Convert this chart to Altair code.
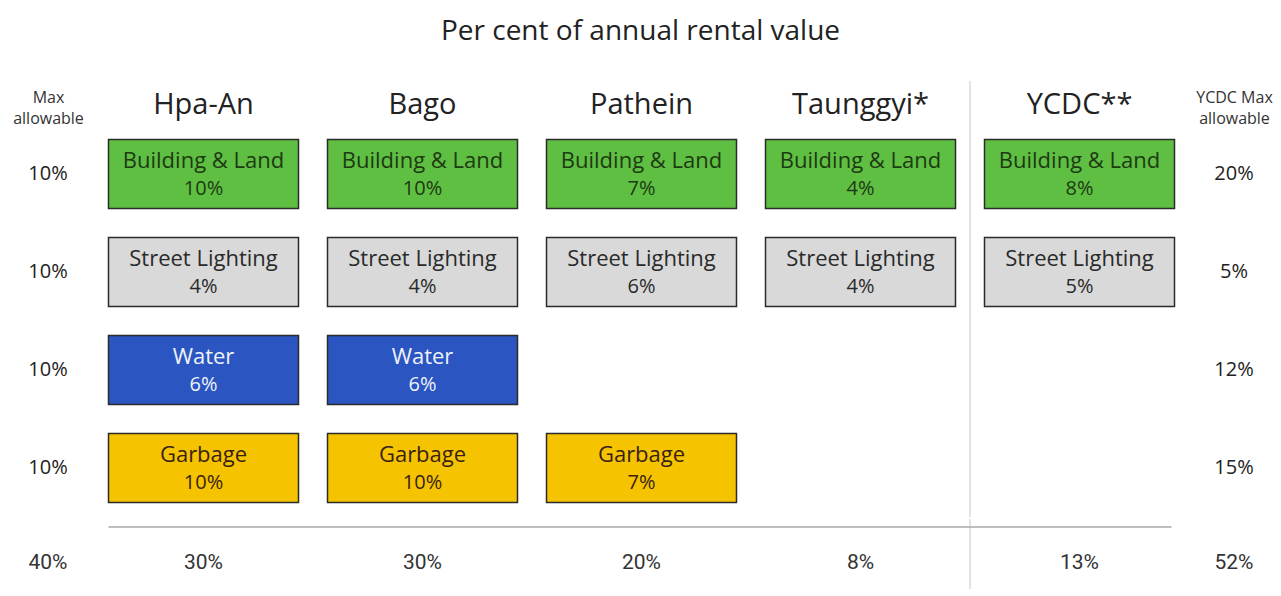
import pandas as pd
import altair as alt

FONT = "Open Sans"
NUM_FONT = "Roboto"

# ---------------- data ----------------
title_text = "Per cent of annual rental value"
cities = ["Hpa-An", "Bago", "Pathein", "Taunggyi*", "YCDC**"]
taxes = ["Building & Land", "Street Lighting", "Water", "Garbage"]
hpa_an = [10, 4, 6, 10]
bago = [10, 4, 6, 10]
pathein = [7, 6, None, 7]
taunggyi = [4, 4, None, None]
ycdc = [8, 5, None, None]
city_totals = [30, 30, 20, 8, 13]
max_allowable = [10, 10, 10, 10]
max_total = [40]
ycdc_max = [20, 5, 12, 15]
ycdc_max_total = [52]
left_header = "Max|allowable"
right_header = "YCDC Max|allowable"

box_colors = ["#5fbf43", "#d9d9d9", "#2b55c0", "#f5c300"]
text_colors = ["#1d3a12", "#2a2a2a", "#eef2fb", "#3a1f12"]

rows = []
for city, vals in zip(cities, [hpa_an, bago, pathein, taunggyi, ycdc]):
    for tax, v in zip(taxes, vals):
        if v is not None:
            rows.append({"city": city, "tax": tax, "value": v})
cells = pd.DataFrame(rows)
totals = pd.DataFrame({"city": cities, "value": city_totals})
left_df = pd.DataFrame({"tax": taxes, "value": max_allowable, "col": left_header})
right_df = pd.DataFrame({"tax": taxes, "value": ycdc_max, "col": right_header})
left_tot = pd.DataFrame({"value": max_total, "col": left_header})
right_tot = pd.DataFrame({"value": ycdc_max_total, "col": right_header})
one = pd.DataFrame({"k": [0]})

MID_W, SIDE_L, SIDE_R, TOP_H, BOT_H = 1095, 80, 78, 392, 70
STEP = MID_W / len(cities)
GAP = 14.5
SEP_X = GAP + (len(cities) - 1) * STEP - GAP  # boundary between Taunggyi and YCDC

x_scale = alt.Scale(type="band", domain=cities, paddingInner=0.1324, paddingOuter=0.0662)
y_scale = alt.Scale(type="band", domain=taxes, paddingInner=0.296, paddingOuter=0.148)

pct = "datum.value + '%'"


def side_axis():
    return alt.Axis(orient="top", title=None, labelAngle=0, domain=False, ticks=False,
                    labelFontSize=16, labelFont=FONT, labelColor="#333", labelPadding=20,
                    labelExpr="split(datum.label, '|')", labelLineHeight=21)


# ---------------- top middle ----------------
mid_base = alt.Chart(cells).transform_calculate(pct=pct).encode(
    x=alt.X("city:N", scale=x_scale,
            axis=alt.Axis(orient="top", title=None, labelAngle=0, domain=False, ticks=False,
                          labelFontSize=29, labelFont=FONT, labelColor="#222", labelPadding=6)),
    y=alt.Y("tax:N", scale=y_scale, axis=None),
)
boxes = mid_base.mark_rect(stroke="#2b2b2b", strokeWidth=1.5).encode(
    color=alt.Color("tax:N", scale=alt.Scale(domain=taxes, range=box_colors), legend=None))
tcol = alt.Color("tax:N", scale=alt.Scale(domain=taxes, range=text_colors), legend=None)
names = mid_base.mark_text(dy=-13, fontSize=22, font=FONT).encode(text="tax:N", color=tcol)
pcts = mid_base.mark_text(dy=15, fontSize=20, font=FONT).encode(text="pct:N", color=tcol)
vline_top = alt.Chart(one).mark_rule(color="#e4e4e4", strokeWidth=2).encode(
    x=alt.value(SEP_X), y=alt.value(-44), y2=alt.value(TOP_H))
mid_top = alt.layer(boxes, names, pcts, vline_top).resolve_scale(color="independent").properties(
    width=MID_W, height=TOP_H)

# ---------------- top sides ----------------
left_top = alt.Chart(left_df).transform_calculate(pct=pct).mark_text(
    fontSize=20, font=FONT, color="#222").encode(
    x=alt.X("col:N", axis=side_axis()),
    y=alt.Y("tax:N", scale=y_scale, axis=None),
    text="pct:N").properties(width=SIDE_L, height=TOP_H)
right_top = alt.Chart(right_df).transform_calculate(pct=pct).mark_text(
    fontSize=20, font=FONT, color="#222").encode(
    x=alt.X("col:N", axis=side_axis()),
    y=alt.Y("tax:N", scale=y_scale, axis=None),
    text="pct:N").properties(width=SIDE_R, height=TOP_H)

# ---------------- bottom (totals) ----------------
tot_text = alt.Chart(totals).transform_calculate(pct=pct).mark_text(
    dy=9, fontSize=21, font=NUM_FONT, color="#333").encode(
    x=alt.X("city:N", scale=x_scale, axis=None), text="pct:N")
hline = alt.Chart(one).mark_rule(color="#a8a8a8", strokeWidth=1.5).encode(
    x=alt.value(GAP), x2=alt.value(MID_W - GAP - 3), y=alt.value(8))
vline_bot = alt.Chart(one).mark_rule(color="#e4e4e4", strokeWidth=2).encode(
    x=alt.value(SEP_X), y=alt.value(0), y2=alt.value(BOT_H))
mid_bot = alt.layer(vline_bot, hline, tot_text).properties(width=MID_W, height=BOT_H)

left_bot = alt.Chart(left_tot).transform_calculate(pct=pct).mark_text(
    dy=9, fontSize=21, font=NUM_FONT, color="#333").encode(
    x=alt.X("col:N", axis=None), text="pct:N").properties(width=SIDE_L, height=BOT_H)
right_bot = alt.Chart(right_tot).transform_calculate(pct=pct).mark_text(
    dy=9, fontSize=21, font=NUM_FONT, color="#333").encode(
    x=alt.X("col:N", axis=None), text="pct:N").properties(width=SIDE_R, height=BOT_H)

top_row = alt.hconcat(left_top, mid_top, right_top, spacing=6, bounds="flush")
bot_row = alt.hconcat(left_bot, mid_bot, right_bot, spacing=6, bounds="flush")

chart = alt.vconcat(top_row, bot_row, spacing=0).properties(
    title=alt.Title(title_text, fontSize=28, font=FONT, fontWeight="normal", color="#222",
                    anchor="middle", offset=34),
    padding={"left": 0, "top": 10, "right": 0, "bottom": 0},
).configure_view(stroke=None)

chart.save("out.html", embed_options={"renderer": "svg", "actions": False})
